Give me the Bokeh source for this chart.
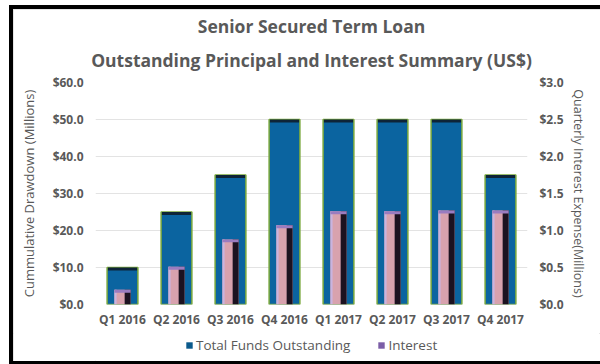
from bokeh.plotting import figure
from bokeh.layouts import column
from bokeh.models import (Range1d, LinearAxis, NumeralTickFormatter, Title, Legend, LegendItem,
                          ColumnDataSource, FactorRange)
from bokeh.transform import dodge
from bokeh.embed import file_html
from bokeh.resources import INLINE

quarters = ["Q1 2016", "Q2 2016", "Q3 2016", "Q4 2016", "Q1 2017", "Q2 2017", "Q3 2017", "Q4 2017"]
total_funds = [10, 25, 35, 50, 50, 50, 50, 35]
interest = [0.2, 0.51, 0.88, 1.07, 1.26, 1.26, 1.27, 1.27]
title_lines = ["Senior Secured Term Loan", "Outstanding Principal and Interest Summary (US$)"]
left_label = "Cummulative Drawdown (Millions)"
right_label = "Quarterly Interest Expense(Millions)"
legend_labels = ["Total Funds Outstanding", "Interest"]

GRAY = "#595959"
FONT = "Open Sans"

src = ColumnDataSource(dict(q=quarters, total=total_funds, interest=interest,
                            total_cap=[t - 0.8 for t in total_funds],
                            int_cap=[i - 0.04 for i in interest]))

p = figure(width=587, height=324, x_range=FactorRange(*quarters), y_range=Range1d(0, 60),
           output_backend="svg", toolbar_location=None,
           min_border_left=82, min_border_right=73, min_border_top=73, min_border_bottom=29,
           background_fill_color="white", border_fill_color="white")
p.outline_line_color = None
p.extra_y_ranges = {"int": Range1d(0, 3)}

# two-line title: first added sits closest to the plot
p.add_layout(Title(text=title_lines[1], align="center", text_font=FONT, text_font_style="bold",
                   text_font_size="17.5px", text_color=GRAY, standoff=22, offset=-4), "above")
p.add_layout(Title(text=title_lines[0], align="center", text_font=FONT, text_font_style="bold",
                   text_font_size="17.5px", text_color=GRAY, standoff=-6, offset=-4), "above")

# total funds bars
p.vbar(x="q", top="total", bottom=0, width=0.57, source=src,
       fill_color="#0b64a0", line_color="#7aa83c", line_width=1.5)
p.vbar(x="q", top="total", bottom="total_cap", width=0.54, source=src,
       fill_color="#0e2438", line_color=None)

# interest bars (pseudo 3D)
p.vbar(x="q", top="interest", bottom=0, width=0.30, source=src, y_range_name="int",
       fill_color="#d8a2ae", line_color=None)
p.vbar(x=dodge("q", 0.095, range=p.x_range), top="interest", bottom=0, width=0.11, source=src,
       y_range_name="int", fill_color="#1c1220", line_color=None)
p.vbar(x=dodge("q", -0.13, range=p.x_range), top="interest", bottom=0, width=0.04, source=src,
       y_range_name="int", fill_color="#c9b4e0", line_color=None)
p.vbar(x="q", top="interest", bottom="int_cap", width=0.30, source=src, y_range_name="int",
       fill_color="#9a7cc0", line_color=None)

# grid / axes
p.xgrid.grid_line_color = None
p.ygrid.grid_line_color = "#e3e3e3"
p.ygrid.grid_line_width = 1
p.yaxis.ticker = [0, 10, 20, 30, 40, 50, 60]
p.yaxis.formatter = NumeralTickFormatter(format="$0.0")

right = LinearAxis(y_range_name="int", ticker=[0, 0.5, 1, 1.5, 2, 2.5, 3],
                   formatter=NumeralTickFormatter(format="$0.0"))
p.add_layout(right, "right")

for ax in [p.xaxis[0], p.yaxis[0], right]:
    ax.axis_line_color = None
    ax.major_tick_line_color = None
    ax.minor_tick_line_color = None
    ax.major_tick_out = 0
    ax.major_tick_in = 0
    ax.minor_tick_out = 0
    ax.minor_tick_in = 0
    ax.major_label_text_color = GRAY
    ax.major_label_text_font = FONT
    ax.major_label_text_font_style = "bold"
    ax.major_label_text_font_size = "12px"
    ax.axis_label_text_color = GRAY
    ax.axis_label_text_font = FONT
    ax.axis_label_text_font_style = "normal"
    ax.axis_label_text_font_size = "13px"

p.yaxis[0].major_label_standoff = 12
p.yaxis[0].axis_label = left_label
p.yaxis[0].axis_label_standoff = 12
right.major_label_standoff = 12
right.axis_label = right_label
right.axis_label_standoff = 3
right.axis_label_text_font_size = "12.5px"
p.xaxis[0].major_label_standoff = 6

# legend strip below the chart (legend glyph renderers have zero height and lie off range)
lg = figure(width=587, height=28, x_range=FactorRange(*quarters), y_range=Range1d(1000, 1001),
            output_backend="svg", toolbar_location=None, x_axis_location=None,
            y_axis_location=None, min_border=0, min_border_left=0, min_border_right=0,
            min_border_top=0, min_border_bottom=0,
            background_fill_color="white", border_fill_color="white")
lg.outline_line_color = None
lg.grid.visible = False
r1 = lg.vbar(x="q", top="total", bottom="total", width=0.5, source=src,
             fill_color="#0b5a8c", line_color=None)
r2 = lg.vbar(x="q", top="interest", bottom="interest", width=0.5, source=src,
             fill_color="#7b5ea7", line_color=None)
leg = Legend(items=[LegendItem(label=legend_labels[0], renderers=[r1]),
                    LegendItem(label=legend_labels[1], renderers=[r2])],
             orientation="horizontal", location=(90, 7))
leg.padding = 0
leg.margin = 0
leg.spacing = 27
leg.glyph_width = 8
leg.glyph_height = 8
leg.label_height = 14
leg.label_standoff = 3
leg.label_text_font = FONT
leg.label_text_font_size = "13.5px"
leg.label_text_color = GRAY
leg.border_line_color = None
leg.background_fill_alpha = 0
lg.add_layout(leg, "center")

layout = column(p, lg, spacing=0)
layout.margin = (9, 0, 0, 13)
layout.styles = {"outline": "4px solid black", "box-shadow": "inset 0 0 0 1px #dcdcdc"}
open("out.html", "w").write(file_html(layout, INLINE))
